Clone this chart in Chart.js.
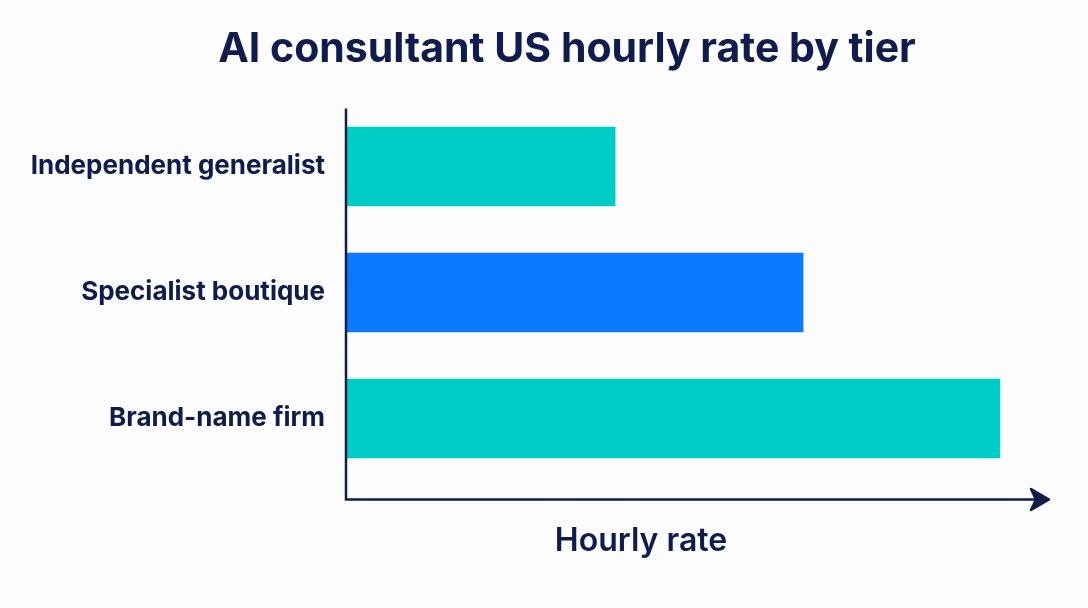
<!DOCTYPE html>
<html>
<head>
<meta charset="utf-8">
<script src="https://cdn.jsdelivr.net/npm/chart.js@4.4.1/dist/chart.umd.min.js"></script>
<style>
  html, body { margin: 0; padding: 0; background: #fcfcfd; }
  #wrap { width: 1088px; height: 608px; }
</style>
</head>
<body>
<div id="wrap"><canvas id="c" width="1088" height="608"></canvas></div>
<script>
const categories = ["Independent generalist", "Specialist boutique", "Brand-name firm"];
const hourlyRate = [150, 255, 365];
const barColors = ["#00cdc6", "#0a79ff", "#00cdc6"];
const chartTitle = "AI consultant US hourly rate by tier";
const xAxisTitle = "Hourly rate";
const navy = "#0f1c4d";
const fontFamily = "Inter, 'Noto Sans', sans-serif";

const decorPlugin = {
  id: 'decor',
  afterDatasetsDraw(chart) {
    const { ctx, chartArea } = chart;
    const x0 = chartArea.left - 1;
    const yAxisBottom = chartArea.bottom + 18;
    ctx.save();
    ctx.strokeStyle = navy;
    ctx.fillStyle = navy;
    ctx.lineWidth = 2.5;
    ctx.beginPath();
    ctx.moveTo(x0, chartArea.top + 5);
    ctx.lineTo(x0, yAxisBottom);
    ctx.lineTo(chartArea.right, yAxisBottom);
    ctx.stroke();
    const tipX = chartArea.right + 4;
    ctx.beginPath();
    ctx.moveTo(tipX, yAxisBottom);
    ctx.lineTo(tipX - 18, yAxisBottom - 10.5);
    ctx.lineTo(tipX - 13, yAxisBottom);
    ctx.lineTo(tipX - 18, yAxisBottom + 10.5);
    ctx.closePath();
    ctx.lineJoin = 'round';
    ctx.lineWidth = 2.5;
    ctx.fill();
    ctx.stroke();

    ctx.textAlign = 'center';
    ctx.textBaseline = 'middle';
    ctx.font = "700 41px " + fontFamily;
    ctx.fillText(chartTitle, 567, 50);
    ctx.font = "600 32px " + fontFamily;
    ctx.fillText(xAxisTitle, 641, 541);
    ctx.restore();
  }
};

new Chart(document.getElementById('c'), {
  type: 'bar',
  data: {
    labels: categories,
    datasets: [{
      data: hourlyRate,
      backgroundColor: barColors,
      borderWidth: 0,
      barPercentage: 0.63,
      categoryPercentage: 1.0
    }]
  },
  options: {
    indexAxis: 'y',
    responsive: false,
    animation: false,
    layout: { padding: { left: 0, right: 43, top: 103.5, bottom: 126.5 } },
    plugins: {
      legend: { display: false },
      tooltip: { enabled: false },
      title: { display: false }
    },
    scales: {
      x: {
        min: 0,
        max: 390,
        grid: { display: false, drawTicks: false },
        border: { display: false },
        ticks: { display: false },
        afterFit(scale) { scale.height = 0; }
      },
      y: {
        grid: { display: false, drawTicks: false },
        border: { display: false },
        ticks: {
          color: navy,
          padding: 22,
          font: { family: fontFamily, size: 26, weight: '700' }
        },
        afterFit(scale) { scale.width = 347; }
      }
    }
  },
  plugins: [decorPlugin]
});
</script>
</body>
</html>
